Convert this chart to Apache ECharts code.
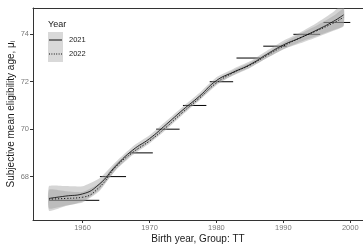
<!DOCTYPE html>
<html><head><meta charset="utf-8">
<script src="https://cdn.jsdelivr.net/npm/echarts@6/dist/echarts.min.js"></script>
<style>html,body{margin:0;padding:0;background:#fff}#c{width:363px;height:244px}</style>
</head><body><div id="c"></div>
<script>
const curveYears = [1955, 1957.5, 1960, 1962.5, 1965, 1967.5, 1970, 1972.5, 1975, 1977.5, 1980, 1982.5, 1985, 1987.5, 1990, 1992.5, 1995, 1997.5, 1999];
const mean2021 = [67.08, 67.18, 67.27, 67.68, 68.46, 69.12, 69.6, 70.2, 70.82, 71.4, 72.05, 72.4, 72.72, 73.15, 73.55, 73.85, 74.18, 74.55, 74.82];
const mean2022 = [67.05, 67.08, 67.13, 67.55, 68.42, 69.02, 69.5, 70.08, 70.72, 71.32, 71.95, 72.38, 72.7, 73.1, 73.5, 73.85, 74.15, 74.48, 74.72];
const halfWidth2021 = [0.52, 0.42, 0.32, 0.24, 0.17, 0.15, 0.14, 0.14, 0.14, 0.14, 0.14, 0.14, 0.14, 0.15, 0.18, 0.23, 0.3, 0.4, 0.48];
const halfWidth2022 = [0.4, 0.3, 0.22, 0.17, 0.13, 0.11, 0.1, 0.1, 0.1, 0.1, 0.1, 0.1, 0.1, 0.11, 0.13, 0.17, 0.22, 0.3, 0.36];
const stepStart = [1955, 1962.6, 1967, 1971, 1975, 1979, 1983, 1987, 1991.5, 1996];
const stepEnd = [1962.5, 1966.5, 1970.5, 1974.5, 1978.5, 1982.5, 1986.5, 1990.5, 1995.5, 2000];
const stepAge = [67, 68, 69, 70, 71, 72, 73, 73.5, 74, 74.5];
const xTicks = [1960, 1970, 1980, 1990, 2000];
const yTicks = [68, 70, 72, 74];
const seriesNames = ['2021', '2022'];

const FONT = 'Liberation Sans';
const chart = echarts.init(document.getElementById('c'), null, {renderer: 'canvas'});

function pts(ys) { return curveYears.map((x, i) => [x, ys[i]]); }

const stepData = [];
stepAge.forEach((a, i) => { stepData.push([stepStart[i], a], [stepEnd[i], a], null); });

function ribbon(name, m, h) {
  const data = curveYears.map((x, i) => [x, m[i] - h[i], m[i] + h[i]]);
  return {
    type: 'custom', name: 'band' + name, data: data, silent: true, z: 3,
    encode: {x: 0, y: [1, 2]},
    renderItem: function (params, api) {
      if (params.dataIndex !== 0) return null;
      const up = [], lo = [];
      data.forEach(d => { up.push(api.coord([d[0], d[2]])); lo.push(api.coord([d[0], d[1]])); });
      const cs = params.coordSys;
      return {
        type: 'group',
        clipPath: {type: 'rect', shape: {x: cs.x, y: cs.y, width: cs.width, height: cs.height}},
        children: [{
          type: 'polygon',
          shape: {points: up.concat(lo.reverse()), smooth: 0.15},
          style: {fill: '#9a9a9a', opacity: 0.42}
        }]
      };
    }
  };
}

const lineIcon = 'path://M0,0h14v1h-14z';
const dotIcon = 'path://M0,0h1v1h-1z M2.6,0h1v1h-1z M5.2,0h1v1h-1z M7.8,0h1v1h-1z M10.4,0h1v1h-1z M13,0h1v1h-1z';

chart.setOption({
  animation: false,
  grid: {left: 33, right: 0, top: 8, bottom: 24, containLabel: false, outerBoundsMode: 'none'},
  xAxis: [{
    type: 'value', min: 1952.6, max: 2001.9,
    name: 'Birth year, Group: TT', nameLocation: 'middle', nameGap: 14, nameMoveOverlap: false,
    nameTextStyle: {fontFamily: FONT, fontSize: 10, color: '#1a1a1a'},
    axisLine: {show: true, lineStyle: {color: '#333', width: 1}},
    axisTick: {show: true, length: 3, lineStyle: {color: '#333'}, customValues: xTicks},
    axisLabel: {fontFamily: FONT, fontSize: 7.5, color: '#7a7a7a', margin: 4, customValues: xTicks,
                formatter: v => String(v)},
    splitLine: {show: false}
  }, {
    type: 'value', min: 1952.6, max: 2001.9, position: 'top',
    axisLine: {show: true, onZero: false, lineStyle: {color: '#333', width: 1}},
    axisTick: {show: false}, axisLabel: {show: false}, splitLine: {show: false}
  }],
  yAxis: {
    type: 'value', min: 66.17, max: 75.11,
    name: 'Subjective mean eligibility age, μᵢ', nameLocation: 'middle', nameGap: 17, nameMoveOverlap: false,
    nameTextStyle: {fontFamily: FONT, fontSize: 10, color: '#1a1a1a'},
    axisLine: {show: true, lineStyle: {color: '#333', width: 1}},
    axisTick: {show: true, length: 3, lineStyle: {color: '#333'}, customValues: yTicks},
    axisLabel: {fontFamily: FONT, fontSize: 7.5, color: '#7a7a7a', margin: 4, customValues: yTicks,
                formatter: v => String(v)},
    splitLine: {show: false}
  },
  legend: {
    data: [{name: seriesNames[0], icon: lineIcon}, {name: seriesNames[1], icon: dotIcon}],
    orient: 'vertical', left: 49, top: 36, itemWidth: 13, itemHeight: 1, itemGap: 6,
    textStyle: {fontFamily: FONT, fontSize: 7.5, color: '#1a1a1a', padding: [0, 0, 0, 2]},
    selectedMode: false, padding: 0, itemStyle: {color: '#000'}
  },
  graphic: [
    {type: 'rect', left: 48, top: 32, shape: {width: 15, height: 30}, style: {fill: '#d9d9d9'}, z: -1},
    {type: 'text', left: 48, top: 20, style: {text: 'Year', font: '9px "Liberation Sans"', fill: '#1a1a1a'}}
  ],
  series: [
    {type: 'line', name: 'steps', data: stepData, connectNulls: false, symbol: 'none',
     lineStyle: {color: '#000', width: 1}, z: 2, silent: true},
    ribbon('2021', mean2021, halfWidth2021),
    ribbon('2022', mean2022, halfWidth2022),
    {type: 'line', name: '2021', data: pts(mean2021), smooth: true, symbol: 'none', showSymbol: false,
     lineStyle: {color: '#000', width: 0.8, type: 'solid'}, itemStyle: {color: '#000'}, z: 5},
    {type: 'line', name: '2022', data: pts(mean2022), smooth: true, symbol: 'none', showSymbol: false,
     lineStyle: {color: '#000', width: 0.9, type: [1.2, 1.8]}, itemStyle: {color: '#000'}, z: 5}
  ]
});
</script></body></html>
